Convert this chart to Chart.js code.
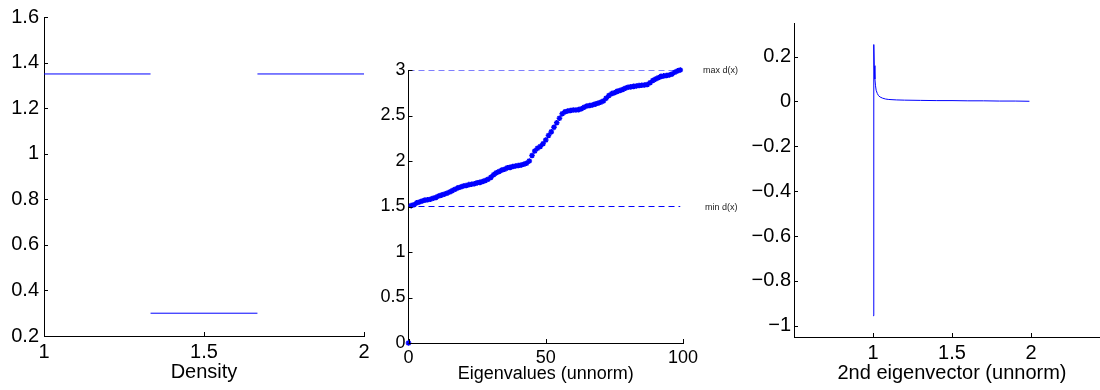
<!DOCTYPE html>
<html>
<head>
<meta charset="utf-8">
<script src="https://cdn.jsdelivr.net/npm/chart.js@4.4.0/dist/chart.umd.min.js"></script>
<style>
html, body { margin: 0; padding: 0; background: #fff; }
body { position: relative; width: 1100px; height: 390px; overflow: hidden; }
canvas { position: absolute; top: 0; }
</style>
</head>
<body>
<canvas id="density" width="380" height="390" style="left:0px"></canvas>
<canvas id="eigvals" width="380" height="390" style="left:370px"></canvas>
<canvas id="eigvec" width="400" height="390" style="left:730px"></canvas>
<script>
// density: three flat pieces, null breaks the line between them
var densX = [1, 1.333, 1.333, 1.333, 1.667, 1.667, 1.667, 2];
var densY = [1.35, 1.35, null, 0.3, 0.3, null, 1.35, 1.35];

// eigenvalues (unnormalized laplacian), index 0..99
var eigVals = [0,
  1.51, 1.52, 1.54, 1.55, 1.56, 1.57, 1.575, 1.58, 1.59, 1.60,
  1.615, 1.625, 1.635, 1.645, 1.66, 1.675, 1.69, 1.705, 1.715, 1.725,
  1.73, 1.74, 1.745, 1.75, 1.76, 1.765, 1.775, 1.785, 1.80, 1.82,
  1.85, 1.87, 1.885, 1.90, 1.91, 1.925, 1.93, 1.94, 1.945, 1.95,
  1.955, 1.965, 1.975, 2.00, 2.06, 2.11, 2.14, 2.16, 2.19, 2.23,
  2.28, 2.32, 2.37, 2.42, 2.47, 2.52, 2.54, 2.55, 2.555, 2.56,
  2.56, 2.565, 2.575, 2.59, 2.605, 2.61, 2.615, 2.625, 2.635, 2.645,
  2.66, 2.69, 2.72, 2.74, 2.75, 2.765, 2.775, 2.785, 2.80, 2.81,
  2.815, 2.82, 2.825, 2.83, 2.832, 2.835, 2.84, 2.86, 2.885, 2.90,
  2.915, 2.93, 2.935, 2.94, 2.945, 2.955, 2.975, 2.99, 3.00];
var refNames = ['max d(x)', 'min d(x)'];
var refValues = [3, 1.5];
var refEndX = 99;

// 2nd eigenvector
var vecX = [1.000, 1.005, 1.008, 1.012, 1.016, 1.020, 1.027, 1.035, 1.045, 1.06, 1.08,
  1.10, 1.15, 1.20, 1.30, 1.40, 1.50, 1.60, 1.70, 1.80, 1.90, 1.99];
var vecY = [-0.955, 0.254, 0.16, 0.10, 0.07, 0.05, 0.036, 0.026, 0.02, 0.015, 0.011,
  0.009, 0.007, 0.006, 0.005, 0.004, 0.004, 0.003, 0.003, 0.002, 0.002, 0.001];
var vecTicksX = [1, 1.5, 2];
var vecTicksY = [-1, -0.8, -0.6, -0.4, -0.2, 0, 0.2];

var BLUE = '#0000ff';
var FONT = "'Liberation Sans', Arial, Helvetica, sans-serif";
Chart.defaults.font.family = FONT;
Chart.defaults.color = '#000';
Chart.defaults.animation = false;

function fmt(v) {
  var s = String(Math.round(v * 100) / 100);
  return s.replace('-', '\u2212');
}

function fixW(w) { return function(s) { s.width = w; }; }
function fixH(h) { return function(s) { s.height = h; }; }

// matlab style ticks pointing into the plot
var innerTicks = {
  id: 'innerTicks',
  afterDraw: function(chart) {
    var ctx = chart.ctx, a = chart.chartArea;
    var xs = chart.scales.x, ys = chart.scales.y;
    ctx.save();
    ctx.strokeStyle = '#000';
    ctx.lineWidth = 1;
    ctx.beginPath();
    xs.ticks.forEach(function(t) {
      var px = Math.round(xs.getPixelForValue(t.value)) + 0.5;
      ctx.moveTo(px, a.bottom);
      ctx.lineTo(px, a.bottom - 4);
    });
    ys.ticks.forEach(function(t) {
      var py = Math.round(ys.getPixelForValue(t.value)) + 0.5;
      ctx.moveTo(a.left, py);
      ctx.lineTo(a.left + 4, py);
    });
    ctx.stroke();
    ctx.restore();
  }
};

function axis(o) {
  return {
    type: 'linear',
    min: o.min, max: o.max,
    border: { display: true, color: '#000', width: 1 },
    grid: { drawOnChartArea: false, drawTicks: false },
    ticks: { stepSize: o.step, padding: o.pad, color: '#000',
      font: { size: o.size, family: FONT }, callback: fmt, autoSkip: false, maxRotation: 0 },
    title: o.title ? { display: true, text: o.title, color: '#000',
      font: { size: o.size, family: FONT }, padding: { top: 0, bottom: o.tpad } } : { display: false },
    afterFit: o.fit,
    afterBuildTicks: o.list ? function(s) { s.ticks = o.list.map(function(v) { return { value: v }; }); } : undefined
  };
}

var baseOpts = {
  responsive: false,
  plugins: { legend: { display: false }, tooltip: { enabled: false } }
};

// left: density
new Chart(document.getElementById('density'), {
  type: 'line',
  data: {
    datasets: [{
      data: densX.map(function(x, i) { return { x: x, y: densY[i] }; }),
      borderColor: BLUE, borderWidth: 1, pointRadius: 0, spanGaps: false, tension: 0
    }]
  },
  options: Object.assign({}, baseOpts, {
    layout: { padding: { top: 15, right: 16, left: 0, bottom: 0 } },
    scales: {
      x: axis({ min: 1, max: 2, step: 0.5, pad: 4, size: 20, title: 'Density', tpad: 6, fit: fixH(54) }),
      y: axis({ min: 0.2, max: 1.6, step: 0.2, pad: 5, size: 20, fit: fixW(44) })
    }
  }),
  plugins: [innerTicks]
});

// middle: eigenvalues with min/max degree lines
var refLabels = {
  id: 'refLabels',
  afterDraw: function(chart) {
    var ctx = chart.ctx, xs = chart.scales.x, ys = chart.scales.y;
    ctx.save();
    ctx.font = '9px ' + FONT;
    ctx.fillStyle = '#222';
    ctx.textBaseline = 'middle';
    refNames.forEach(function(n, i) {
      ctx.fillText(n, xs.getPixelForValue(100) + 20 + i * 2, ys.getPixelForValue(refValues[i]) + 1);
    });
    ctx.restore();
  }
};

var refSets = refValues.map(function(v) {
  return {
    data: [{ x: 0, y: v }, { x: refEndX, y: v }],
    borderColor: BLUE, borderWidth: 1.2, borderDash: [6, 4], pointRadius: 0, showLine: true
  };
});

new Chart(document.getElementById('eigvals'), {
  type: 'scatter',
  data: {
    datasets: [{
      data: eigVals.map(function(v, i) { return { x: i, y: v }; }),
      pointStyle: 'star', pointRadius: 2.8, borderWidth: 1.5,
      borderColor: BLUE, backgroundColor: BLUE, clip: false
    }].concat(refSets)
  },
  options: Object.assign({}, baseOpts, {
    layout: { padding: { top: 70, right: 67, left: 0, bottom: 0 } },
    scales: {
      x: axis({ min: 0, max: 100, step: 50, pad: 4, size: 18, title: 'Eigenvalues (unnorm)', tpad: 5, fit: fixH(47) }),
      y: axis({ min: 0, max: 3, step: 0.5, pad: 3, size: 18, fit: fixW(38.5) })
    }
  }),
  plugins: [innerTicks, refLabels]
});

// right: 2nd eigenvector
new Chart(document.getElementById('eigvec'), {
  type: 'line',
  data: {
    datasets: [{
      data: vecX.map(function(x, i) { return { x: x, y: vecY[i] }; }),
      borderColor: BLUE, borderWidth: 1, pointRadius: 0, tension: 0
    }]
  },
  options: Object.assign({}, baseOpts, {
    layout: { padding: { top: 23, right: 20, left: 0, bottom: 0 } },
    scales: {
      x: axis({ min: 0.5, max: 2.5, pad: 4, size: 20, title: '2nd eigenvector (unnorm)', tpad: 5, fit: fixH(53), list: vecTicksX }),
      y: axis({ min: -1.05, max: 0.35, pad: 3, size: 20, fit: fixW(64), list: vecTicksY })
    }
  }),
  plugins: [innerTicks]
});
</script>
</body>
</html>
